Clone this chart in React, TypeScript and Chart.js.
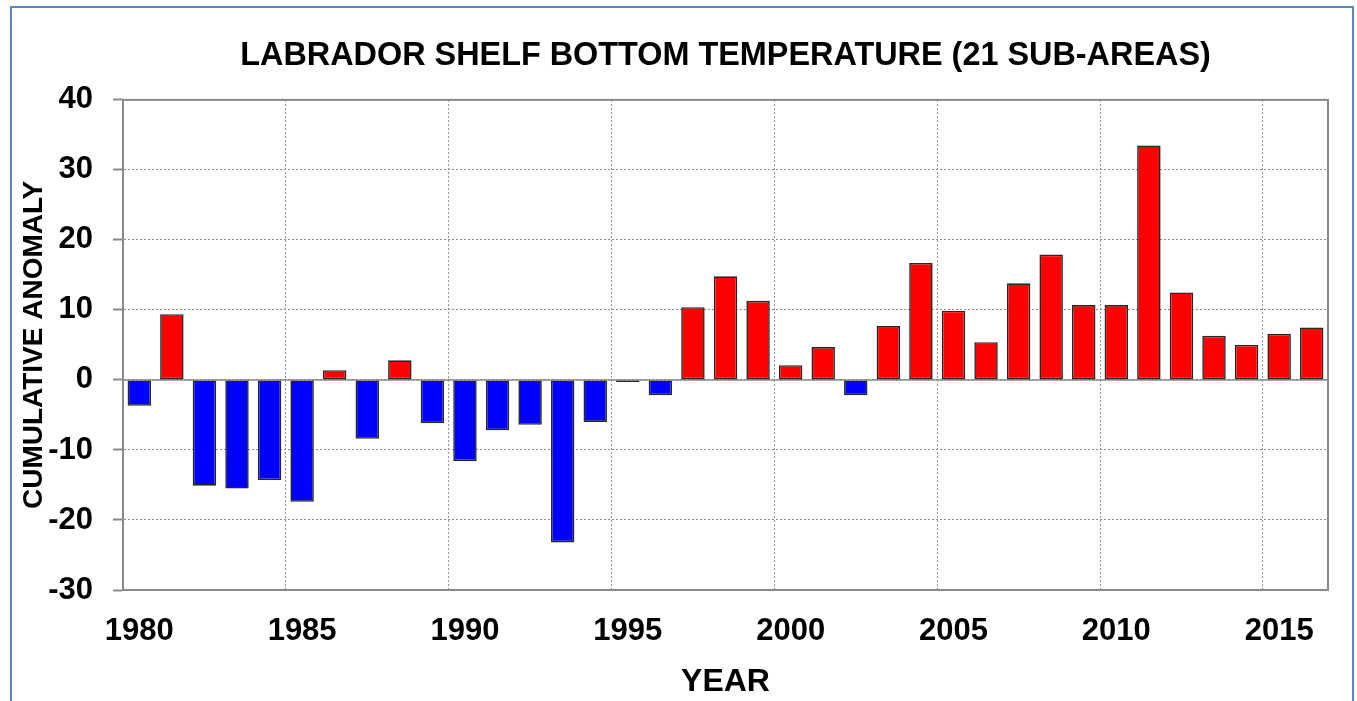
import React, { useEffect, useRef } from "react";
import { Chart, registerables } from "chart.js";

Chart.register(...registerables);

const years = [
  "1980", "1981", "1982", "1983", "1984", "1985", "1986", "1987", "1988", "1989",
  "1990", "1991", "1992", "1993", "1994", "1995", "1996", "1997", "1998", "1999",
  "2000", "2001", "2002", "2003", "2004", "2005", "2006", "2007", "2008", "2009",
  "2010", "2011", "2012", "2013", "2014", "2015", "2016",
];

const anomalies = [
  -3.7, 9.4, -15.1, -15.5, -14.3, -17.4, 1.4, -8.4, 2.8, -6.2,
  -11.6, -7.2, -6.4, -23.2, -6.0, -0.3, -2.2, 10.4, 14.8, 11.3,
  2.1, 4.7, -2.2, 7.7, 16.7, 9.9, 5.4, 13.8, 17.9, 10.7,
  10.7, 33.5, 12.5, 6.3, 5.0, 6.6, 7.5,
];

const xTickYears = ["1980", "1985", "1990", "1995", "2000", "2005", "2010", "2015"];
const yTickValues = [-30, -20, -10, 0, 10, 20, 30, 40];

const TITLE = "LABRADOR SHELF BOTTOM TEMPERATURE (21 SUB-AREAS)";
const Y_TITLE = "CUMULATIVE ANOMALY";
const X_TITLE = "YEAR";

const FONT = '"Liberation Sans", Arial, Helvetica, sans-serif';
const POS_COLOR = "#ff0000";
const NEG_COLOR = "#0000ff";
const GRID = "#8f8f8f";
const FRAME = "#8a8a8a";

const framePlugin = {
  id: "frameAndZero",
  beforeDatasetsDraw(chart: any) {
    const { ctx, chartArea: a, scales } = chart;
    const y0 = scales.y.getPixelForValue(0);
    ctx.save();
    ctx.strokeStyle = FRAME;
    ctx.lineWidth = 1.5;
    ctx.beginPath();
    ctx.moveTo(a.left, y0);
    ctx.lineTo(a.right, y0);
    ctx.stroke();
    ctx.lineWidth = 2;
    ctx.strokeRect(a.left, a.top, a.right - a.left, a.bottom - a.top);
    ctx.restore();
  },
};

export default function App() {
  const ref = useRef<HTMLCanvasElement | null>(null);

  useEffect(() => {
    if (!ref.current) return;
    const chart = new Chart(ref.current, {
      type: "bar",
      data: {
        labels: years,
        datasets: [
          {
            data: anomalies,
            backgroundColor: anomalies.map((v) => (v >= 0 ? POS_COLOR : NEG_COLOR)),
            borderColor: "#262626",
            borderWidth: 1.6,
            borderSkipped: false,
            barPercentage: 0.72,
            categoryPercentage: 1,
          },
        ],
      },
      plugins: [framePlugin],
      options: {
        responsive: false,
        animation: false,
        devicePixelRatio: 1,
        layout: { padding: { left: 13, right: 29, top: 0, bottom: 0 } },
        plugins: {
          legend: { display: false },
          tooltip: { enabled: false },
          title: {
            display: true,
            text: TITLE,
            fullSize: false,
            color: "#000",
            font: { family: FONT, size: 32.4, weight: "bold" },
            padding: { top: 37, bottom: 24 },
          },
        },
        scales: {
          x: {
            offset: true,
            afterFit: (s: any) => {
              s.height = 111;
            },
            grid: {
              offset: true,
              drawTicks: false,
              color: (c: any) => (c.index % 5 === 0 ? GRID : "rgba(0,0,0,0)"),
              lineWidth: 1,
            },
            border: { display: true, color: FRAME, width: 2, dash: [2, 2] },
            ticks: {
              autoSkip: false,
              maxRotation: 0,
              minRotation: 0,
              padding: 23,
              color: "#000",
              font: { family: FONT, size: 31, weight: "bold" },
              callback: (_v: any, i: number) =>
                xTickYears.includes(years[i]) ? years[i] : "",
            },
            title: {
              display: true,
              text: X_TITLE,
              color: "#000",
              font: { family: FONT, size: 32, weight: "bold" },
              padding: { top: 0, bottom: 0 },
            },
          },
          y: {
            min: yTickValues[0],
            max: yTickValues[yTickValues.length - 1],
            afterFit: (s: any) => {
              s.width = 110;
            },
            afterBuildTicks: (s: any) => {
              s.ticks = yTickValues.map((v) => ({ value: v }));
            },
            grid: {
              color: GRID,
              lineWidth: 1,
              drawTicks: true,
              tickLength: 10,
              tickColor: FRAME,
              tickWidth: 2,
            },
            border: { display: true, color: FRAME, width: 2, dash: [2, 2] },
            ticks: {
              padding: 20,
              color: "#000",
              font: { family: FONT, size: 31, weight: "bold" },
            },
            title: {
              display: true,
              text: Y_TITLE,
              color: "#000",
              font: { family: FONT, size: 28, weight: "bold" },
              padding: { top: 4, bottom: 0 },
            },
          },
        },
      },
    } as any);
    return () => chart.destroy();
  }, []);

  return (
    <div
      style={{
        position: "fixed",
        left: 0,
        top: 0,
        width: 1357,
        height: 701,
        background: "#fff",
        overflow: "hidden",
      }}
    >
      <div
        style={{
          position: "absolute",
          left: 10,
          top: 6,
          width: 1344,
          height: 760,
          border: "2px solid #5b86c2",
          boxSizing: "border-box",
        }}
      />
      <canvas
        ref={ref}
        width={1357}
        height={701}
        style={{ position: "absolute", left: 0, top: 0, width: 1357, height: 701 }}
      />
    </div>
  );
}
